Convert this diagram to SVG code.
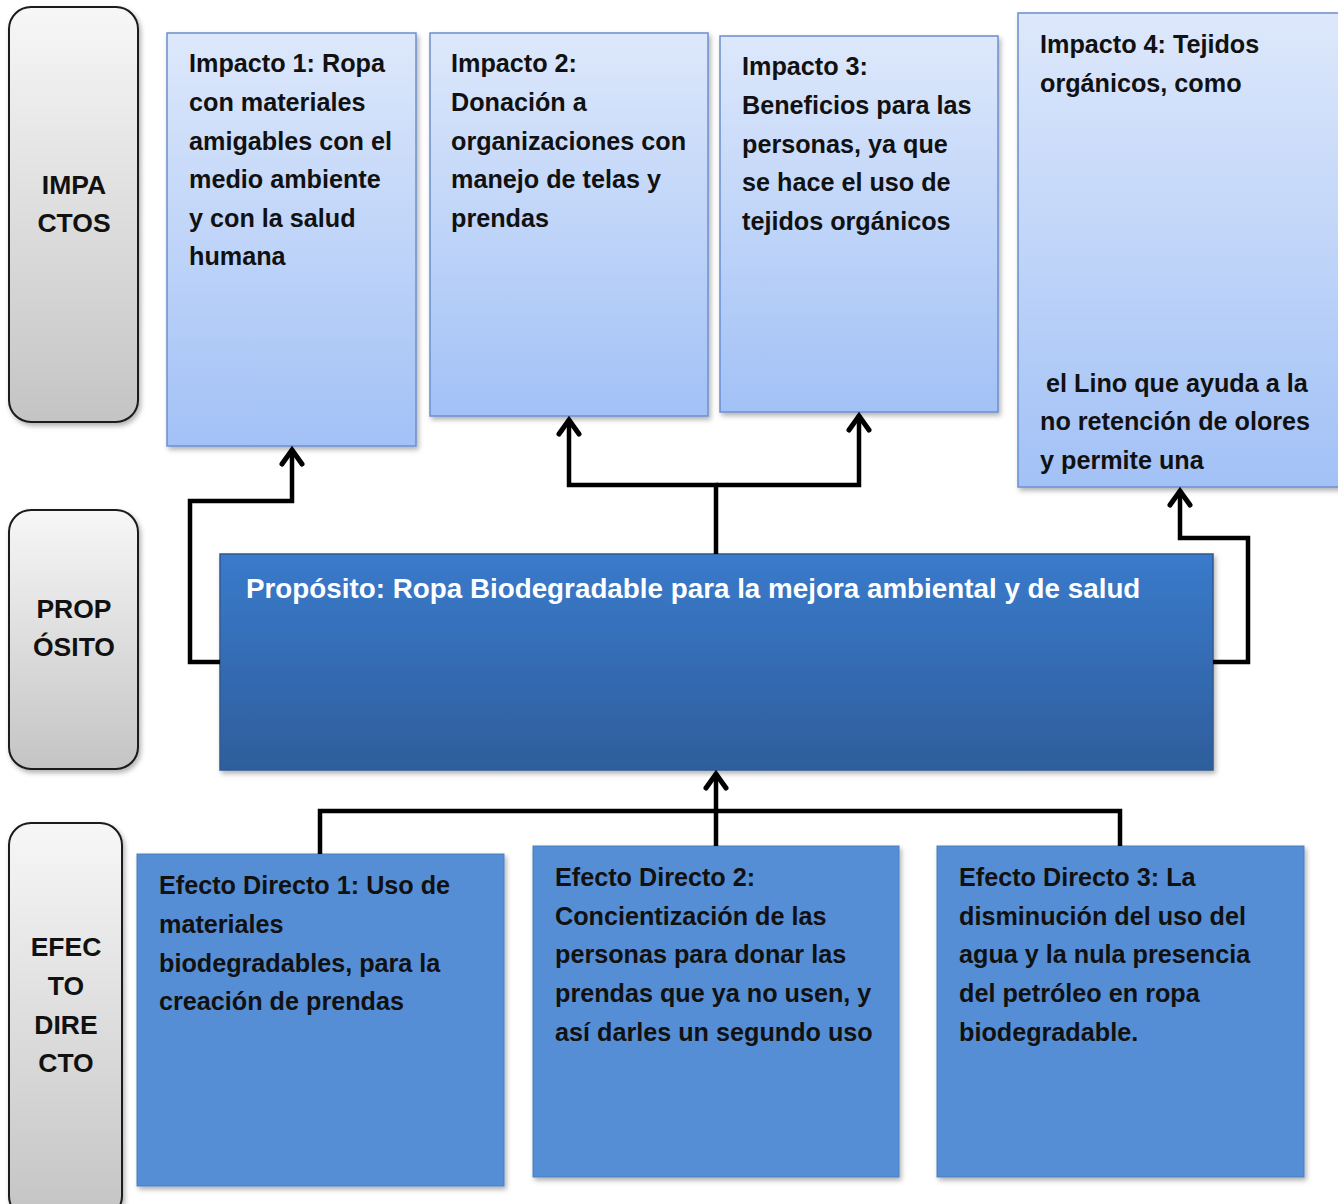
<svg xmlns="http://www.w3.org/2000/svg" width="1338" height="1204" viewBox="0 0 1338 1204">
<defs>
<linearGradient id="gGray" x1="0" y1="0" x2="0" y2="1"><stop offset="0" stop-color="#f7f7f7"/><stop offset="1" stop-color="#c4c4c4"/></linearGradient>
<linearGradient id="gLight" x1="0" y1="0" x2="0" y2="1"><stop offset="0" stop-color="#dde8fb"/><stop offset="1" stop-color="#a2c1f6"/></linearGradient>
<linearGradient id="gDark" x1="0" y1="0" x2="0" y2="1"><stop offset="0" stop-color="#3a7acb"/><stop offset="1" stop-color="#2e5e9c"/></linearGradient>
<filter id="sh" x="-10%" y="-10%" width="120%" height="120%"><feDropShadow dx="2" dy="3" stdDeviation="2.5" flood-color="#000" flood-opacity="0.3"/></filter>
<marker id="ah" viewBox="0 0 22 26" markerWidth="22" markerHeight="26" refX="19" refY="13" orient="auto" markerUnits="userSpaceOnUse">
<path d="M4,3 L18,13 L4,23" fill="none" stroke="#000" stroke-width="5" stroke-linecap="round" stroke-linejoin="miter"/>
</marker>
<style>
.t{font-family:"Liberation Sans",Arial,sans-serif;font-weight:bold;font-size:25.2px;fill:#111}
.lab{font-family:"Liberation Sans",Arial,sans-serif;font-weight:bold;font-size:26.5px;fill:#111;text-anchor:middle}
.w{font-family:"Liberation Sans",Arial,sans-serif;font-weight:bold;font-size:27.8px;fill:#fff}
.side{fill:url(#gGray);stroke:#1a1a1a;stroke-width:2}
.imp{fill:url(#gLight);stroke:#6b8fce;stroke-width:1.5}
.eff{fill:#558ed5;stroke:#4a7dc0;stroke-width:1}
.con{fill:none;stroke:#000;stroke-width:4.5;stroke-linejoin:miter}
</style>
</defs>
<rect width="1338" height="1204" fill="#fff"/>

<g id="label-impactos">
<rect class="side" x="9" y="7" width="129" height="415" rx="22" filter="url(#sh)"/>
<text class="lab" x="74" y="194">IMPA</text><text class="lab" x="74" y="232">CTOS</text>
</g>
<g id="label-proposito">
<rect class="side" x="9" y="510" width="129" height="259" rx="22" filter="url(#sh)"/>
<text class="lab" x="74" y="618">PROP</text><text class="lab" x="74" y="656">ÓSITO</text>
</g>
<g id="label-efecto">
<rect class="side" x="9" y="823" width="113" height="395" rx="22" filter="url(#sh)"/>
<text class="lab" x="66" y="956">EFEC</text><text class="lab" x="66" y="995">TO</text><text class="lab" x="66" y="1034">DIRE</text><text class="lab" x="66" y="1072">CTO</text>
</g>

<g id="impacto1">
<rect class="imp" x="167" y="33" width="249" height="413" filter="url(#sh)"/>
<text class="t" x="189" y="72">Impacto 1: Ropa</text>
<text class="t" x="189" y="111">con materiales</text>
<text class="t" x="189" y="150">amigables con el</text>
<text class="t" x="189" y="188">medio ambiente</text>
<text class="t" x="189" y="227">y con la salud</text>
<text class="t" x="189" y="265">humana</text>
</g>
<g id="impacto2">
<rect class="imp" x="430" y="33" width="278" height="383" filter="url(#sh)"/>
<text class="t" x="451" y="72">Impacto 2:</text>
<text class="t" x="451" y="111">Donación a</text>
<text class="t" x="451" y="150">organizaciones con</text>
<text class="t" x="451" y="188">manejo de telas y</text>
<text class="t" x="451" y="227">prendas</text>
</g>
<g id="impacto3">
<rect class="imp" x="720" y="36" width="278" height="376" filter="url(#sh)"/>
<text class="t" x="742" y="75">Impacto 3:</text>
<text class="t" x="742" y="114">Beneficios para las</text>
<text class="t" x="742" y="153">personas, ya que</text>
<text class="t" x="742" y="191">se hace el uso de</text>
<text class="t" x="742" y="230">tejidos orgánicos</text>
</g>
<g id="impacto4">
<rect class="imp" x="1018" y="13" width="330" height="474" filter="url(#sh)"/>
<text class="t" x="1040" y="53">Impacto 4: Tejidos</text>
<text class="t" x="1040" y="92">orgánicos, como</text>
<text class="t" x="1046" y="392">el Lino que ayuda a la</text>
<text class="t" x="1040" y="430">no retención de olores</text>
<text class="t" x="1040" y="469">y permite una</text>
</g>

<g id="proposito">
<rect x="220" y="554" width="993" height="216" fill="url(#gDark)" stroke="#2f5a92" stroke-width="1.5" filter="url(#sh)"/>
<text class="w" x="246" y="598">Propósito: Ropa Biodegradable para la mejora ambiental y de salud</text>
</g>

<g id="efecto1">
<rect class="eff" x="137" y="854" width="367" height="332" filter="url(#sh)"/>
<text class="t" x="159" y="894">Efecto Directo 1: Uso de</text>
<text class="t" x="159" y="933">materiales</text>
<text class="t" x="159" y="972">biodegradables, para la</text>
<text class="t" x="159" y="1010">creación de prendas</text>
</g>
<g id="efecto2">
<rect class="eff" x="533" y="846" width="366" height="331" filter="url(#sh)"/>
<text class="t" x="555" y="886">Efecto Directo 2:</text>
<text class="t" x="555" y="925">Concientización de las</text>
<text class="t" x="555" y="963">personas para donar las</text>
<text class="t" x="555" y="1002">prendas que ya no usen, y</text>
<text class="t" x="555" y="1041">así darles un segundo uso</text>
</g>
<g id="efecto3">
<rect class="eff" x="937" y="846" width="367" height="331" filter="url(#sh)"/>
<text class="t" x="959" y="886">Efecto Directo 3: La</text>
<text class="t" x="959" y="925">disminución del uso del</text>
<text class="t" x="959" y="963">agua y la nula presencia</text>
<text class="t" x="959" y="1002">del petróleo en ropa</text>
<text class="t" x="959" y="1041">biodegradable.</text>
</g>

<g id="connectors">
<path class="con" d="M220,662 H190 V501 H292 V449" marker-end="url(#ah)"/>
<path class="con" d="M716,554 V485 H569 V419" marker-end="url(#ah)"/>
<path class="con" d="M716,485 H859 V415" marker-end="url(#ah)"/>
<path class="con" d="M1213,662 H1248 V538 H1180 V490" marker-end="url(#ah)"/>
<path class="con" d="M320,854 V811 H1120 V846"/>
<path class="con" d="M716,846 V773" marker-end="url(#ah)"/>
</g>
</svg>
